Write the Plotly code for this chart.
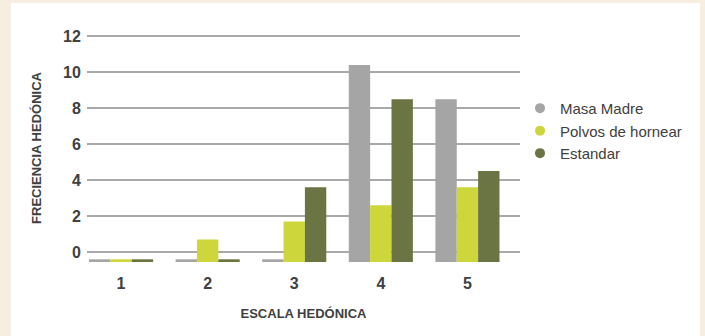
import plotly.graph_objects as go

categories = ["1", "2", "3", "4", "5"]
series_names = ["Masa Madre", "Polvos de hornear", "Estandar"]
masa_madre = [-0.4, -0.4, -0.4, 10.4, 8.5]
polvos = [-0.4, 0.7, 1.7, 2.6, 3.6]
estandar = [-0.4, -0.4, 3.6, 8.5, 4.5]
y_ticks = [0, 2, 4, 6, 8, 10, 12]

BASE = -0.55
Y_TOP = 12.12
colors = ["#a5a5a5", "#cdd63b", "#6b7443"]
series = [masa_madre, polvos, estandar]

W, H = 705, 336
L, R, T, B = 87, 185, 34, 74
pw, ph = W - L - R, H - T - B

FONT = "Liberation Sans, Arial, sans-serif"
TXT = "#404040"

fig = go.Figure()
for name, vals, c in zip(series_names, series, colors):
    fig.add_trace(go.Bar(
        x=categories, y=[v - BASE for v in vals], base=BASE,
        marker=dict(color=c, line=dict(width=0)), name=name, showlegend=False,
    ))
for name, c in zip(series_names, colors):
    fig.add_trace(go.Scatter(
        x=[None], y=[None], mode="markers", name=name,
        marker=dict(symbol="circle", size=10, color=c),
    ))

def px_to_paper_x(px):
    return (px - L) / pw

def px_to_paper_y(py):
    return (H - B - py) / ph

fig.add_shape(type="rect", xref="paper", yref="paper", layer="below",
              x0=px_to_paper_x(11), x1=px_to_paper_x(700),
              y0=px_to_paper_y(340), y1=px_to_paper_y(3),
              fillcolor="white", line=dict(width=0))

fig.update_layout(
    width=W, height=H,
    margin=dict(l=L, r=R, t=T, b=B, autoexpand=False),
    paper_bgcolor="#f6efe1", plot_bgcolor="rgba(0,0,0,0)",
    barmode="group", bargap=0.26, bargroupgap=0,
    legend=dict(x=1.0, xanchor="left", y=0.575, yanchor="middle",
                font=dict(family=FONT, size=15, color=TXT),
                bgcolor="rgba(0,0,0,0)", itemwidth=30, tracegroupgap=0),
    xaxis=dict(type="category", range=[-0.393, 4.607], showgrid=False,
               showline=False, zeroline=False, ticks="outside", ticklen=7,
               tickcolor="rgba(0,0,0,0)",
               tickfont=dict(family=FONT, size=16, color=TXT, weight="bold"),
               title=dict(text="ESCALA HEDÓNICA", standoff=17,
                          font=dict(family=FONT, size=13, color=TXT, weight="bold"))),
    yaxis=dict(range=[BASE, Y_TOP], tickvals=y_ticks, showgrid=True,
               gridcolor="#a9a9a9", gridwidth=1.5, zeroline=False, showline=False,
               ticks="outside", ticklen=2, tickcolor="rgba(0,0,0,0)",
               tickfont=dict(family=FONT, size=16, color=TXT, weight="bold"),
               title=dict(text="FRECIENCIA HEDÓNICA", standoff=18,
                          font=dict(family=FONT, size=13, color=TXT, weight="bold"))),
)

fig.write_html("out.html")
